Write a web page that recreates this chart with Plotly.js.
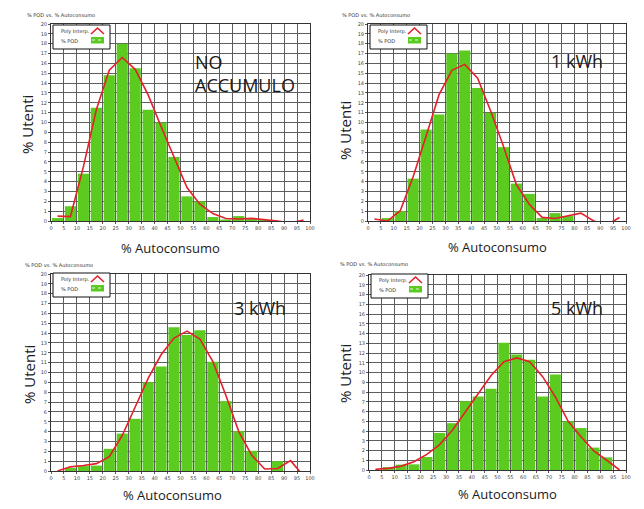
<!DOCTYPE html>
<html><head><meta charset="utf-8">
<script src="https://cdn.plot.ly/plotly-3.0.1.min.js"></script>
<style>html,body{margin:0;padding:0;background:#fff}#chart{width:644px;height:509px}</style>
</head><body><div id="chart"></div>
<script>
// ---- data ----
const binCenters = [2.5, 7.5, 12.5, 17.5, 22.5, 27.5, 32.5, 37.5, 42.5, 47.5, 52.5, 57.5, 62.5, 67.5, 72.5, 77.5, 82.5, 87.5, 92.5, 97.5];
const xTickVals = [0, 5, 10, 15, 20, 25, 30, 35, 40, 45, 50, 55, 60, 65, 70, 75, 80, 85, 90, 95, 100];
const yTickVals = [0, 1, 2, 3, 4, 5, 6, 7, 8, 9, 10, 11, 12, 13, 14, 15, 16, 17, 18, 19, 20];

const podNoAccumulo  = [0.3, 1.5, 4.8, 11.5, 14.8, 18.0, 15.5, 11.3, 10.0, 6.5, 2.5, 2.0, 0.4, 0.15, 0.5, 0.2, 0.1, 0, 0, 0];
const polyNoAccumulo = [0.5, 0.45, 5.5, 11.3, 15.3, 16.6, 15.4, 12.8, 9.6, 6.5, 3.4, 1.7, 0.75, 0.25, 0.2, 0.27, 0.17, 0, -0.2, 0.1];

const pod1kWh  = [0, 0.3, 1.0, 4.3, 9.3, 10.8, 17.0, 17.3, 13.5, 11.0, 7.5, 3.8, 2.75, 0.3, 0.8, 0.5, 0, 0, 0, 0];
const poly1kWh = [0.2, 0, 1.05, 4.5, 8.6, 12.8, 15.3, 15.9, 14.5, 11.2, 7.6, 3.7, 1.7, 0.37, 0.25, 0.5, 0.8, 0, -0.4, 0.35];

const pod3kWh  = [0, 0.3, 0.5, 0.55, 2.25, 3.8, 5.3, 9.0, 10.6, 14.6, 13.8, 14.3, 11.1, 7.1, 4.05, 2.05, 0, 1.0, 0, 0];
const poly3kWh = [0, 0.42, 0.55, 0.75, 1.45, 3.6, 6.5, 9.4, 11.8, 13.5, 14.2, 13.4, 11.1, 7.7, 4.0, 1.6, 0.2, 0.25, 1.05, -0.5];

const pod5kWh  = [0, 0.3, 0.55, 0.58, 1.33, 3.8, 4.8, 7.06, 7.54, 8.33, 13.05, 11.84, 11.3, 7.54, 9.8, 5.0, 4.3, 2.3, 1.3, 0];
const poly5kWh = [0.07, 0.17, 0.4, 0.85, 1.6, 2.6, 4.1, 6.0, 7.85, 9.7, 11.1, 11.5, 11.1, 9.6, 7.5, 5.0, 3.4, 1.95, 1.0, 0];

const panelLabels = ['NO<br>ACCUMULO', '1 kWh', '3 kWh', '5 kWh'];
const smallTitle = '% POD vs. % Autoconsumo';
const xTitle = '% Autoconsumo';
const yTitle = '% Utenti';
const lineName = 'Poly Interp.';
const barName = '% POD';

// ---- layout config (pixels on a 644x509 page) ----
const W = 644, H = 509;
const BAR_COLOR = '#5ccb1f', LINE_COLOR = '#e4202a';
const panels = [
  {pod: podNoAccumulo, poly: polyNoAccumulo, box: [51, 310, 24, 221], label: [193, 48, 'top'], xt: [170, 248], yt: [27, 125], st: [25, 15], lg: [53, 25]},
  {pod: pod1kWh, poly: poly1kWh, box: [368, 626, 24, 221], label: [549, 61, 'middle'], xt: [497, 247], yt: [345, 131], st: [340, 15], lg: [370, 25]},
  {pod: pod3kWh, poly: poly3kWh, box: [51, 310, 274, 471], label: [232, 308, 'middle'], xt: [172, 495], yt: [29, 375], st: [23, 265], lg: [53, 273]},
  {pod: pod5kWh, poly: poly5kWh, box: [369, 626, 275, 470], label: [549, 308, 'middle'], xt: [507, 494], yt: [345, 374], st: [338, 264], lg: [371, 274]}
];

const px = v => v / W, py = v => 1 - v / H;
const textFont = 'Open Sans, Noto Sans, sans-serif';
const smallFont = 'DejaVu Sans, sans-serif';
const data = [];
const layout = {
  width: W, height: H,
  margin: {l: 0, r: 0, t: 0, b: 0},
  paper_bgcolor: '#fff', plot_bgcolor: '#fff',
  bargap: 0.14,
  showlegend: false,
  annotations: [],
  shapes: [],
  font: {family: textFont, color: '#222'}
};

panels.forEach((p, i) => {
  const n = i === 0 ? '' : String(i + 1);
  data.push({
    type: 'bar', x: binCenters, y: p.pod, name: barName,
    xaxis: 'x' + n, yaxis: 'y' + n,
    marker: {color: BAR_COLOR, line: {width: 0}}
  });
  data.push({
    type: 'scatter', mode: 'lines', x: binCenters, y: p.poly, name: lineName,
    xaxis: 'x' + n, yaxis: 'y' + n,
    line: {color: LINE_COLOR, width: 1.6}
  });
  const axCommon = {
    showgrid: true, gridcolor: '#5e5e5e', gridwidth: 1,
    showline: true, mirror: true, linecolor: '#333', linewidth: 1,
    zeroline: false, ticks: 'outside', ticklen: 2, tickcolor: '#555',
    tickfont: {size: 5, color: '#444', family: smallFont},
    fixedrange: true
  };
  layout['xaxis' + n] = Object.assign({}, axCommon, {
    domain: [px(p.box[0]), px(p.box[1])], anchor: 'y' + n,
    range: [0, 100], tickmode: 'array', tickvals: xTickVals
  });
  layout['yaxis' + n] = Object.assign({}, axCommon, {
    domain: [py(p.box[3]), py(p.box[2])], anchor: 'x' + n,
    range: [0, 20], tickmode: 'array', tickvals: yTickVals
  });

  // legend box drawn per panel (text left, icon right, as in the original)
  const ox = p.lg[0], oy = p.lg[1];
  const P = (dx, dy) => [px(ox + dx), py(oy + dy)];
  const b0 = P(0, 0), b1 = P(57, 24);
  layout.shapes.push(
    {type: 'rect', xref: 'paper', yref: 'paper', x0: b0[0], y0: b1[1], x1: b1[0], y1: b0[1],
     line: {color: '#111', width: 1}, fillcolor: '#fff', layer: 'above'},
    {type: 'path', xref: 'paper', yref: 'paper',
     path: 'M' + P(38, 9).join(',') + ' L' + P(44.5, 3).join(',') + ' L' + P(51, 9).join(','),
     line: {color: LINE_COLOR, width: 1.6}, layer: 'above'},
    {type: 'rect', xref: 'paper', yref: 'paper',
     x0: P(38, 0)[0], x1: P(51, 0)[0], y0: P(0, 18.5)[1], y1: P(0, 12)[1],
     line: {width: 0}, fillcolor: BAR_COLOR, layer: 'above'},
    {type: 'line', xref: 'paper', yref: 'paper',
     x0: P(39, 0)[0], x1: P(50, 0)[0], y0: P(0, 15)[1], y1: P(0, 15)[1],
     line: {color: '#e8f8dc', width: 1, dash: 'dot'}, layer: 'above'}
  );
  layout.annotations.push(
    {text: lineName, xref: 'paper', yref: 'paper', x: P(6, 0)[0], y: P(0, 6)[1],
     xanchor: 'left', yanchor: 'middle', showarrow: false,
     font: {size: 5, color: '#333', family: smallFont}},
    {text: barName, xref: 'paper', yref: 'paper', x: P(6, 0)[0], y: P(0, 15.5)[1],
     xanchor: 'left', yanchor: 'middle', showarrow: false,
     font: {size: 5, color: '#333', family: smallFont}}
  );

  layout.annotations.push(
    {text: panelLabels[i], xref: 'paper', yref: 'paper', x: px(p.label[0]), y: py(p.label[1]),
     xanchor: 'left', yanchor: p.label[2], align: 'left', showarrow: false,
     font: {size: 18, color: '#1a1a1a', family: textFont}},
    {text: xTitle, xref: 'paper', yref: 'paper', x: px(p.xt[0]), y: py(p.xt[1]),
     xanchor: 'center', yanchor: 'middle', showarrow: false,
     font: {size: 13, color: '#1a1a1a', family: textFont}},
    {text: yTitle, xref: 'paper', yref: 'paper', x: px(p.yt[0]), y: py(p.yt[1]),
     xanchor: 'center', yanchor: 'middle', textangle: -90, showarrow: false,
     font: {size: 15, color: '#1a1a1a', family: textFont}},
    {text: smallTitle, xref: 'paper', yref: 'paper', x: px(p.st[0]), y: py(p.st[1]),
     xanchor: 'left', yanchor: 'middle', showarrow: false,
     font: {size: 5, color: '#333', family: smallFont}}
  );
});

Plotly.newPlot('chart', data, layout, {displayModeBar: false, staticPlot: true});
</script>
</body></html>
